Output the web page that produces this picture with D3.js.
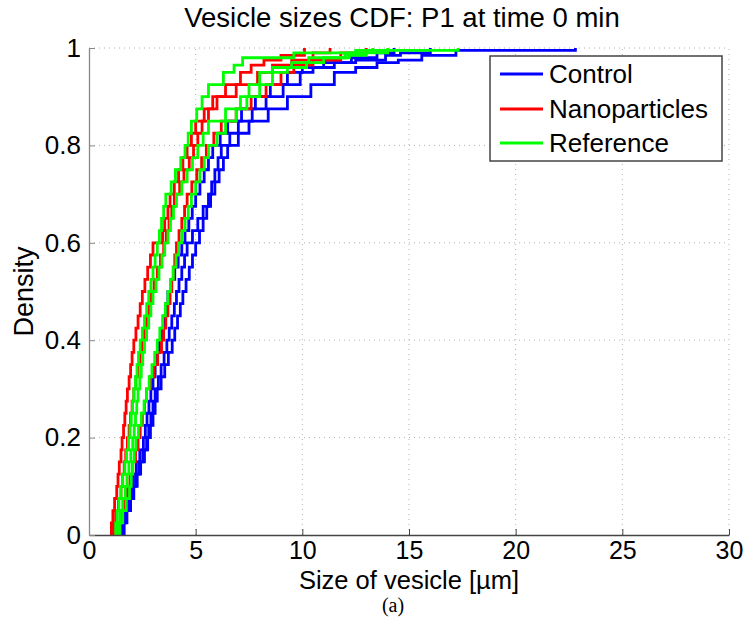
<!DOCTYPE html>
<html><head><meta charset="utf-8">
<script src="https://cdn.jsdelivr.net/npm/d3@7"></script>
<style>body{margin:0;background:#fff}svg{display:block}</style>
</head><body>
<svg id="c" width="745" height="627" font-family="Liberation Sans, Arial, sans-serif"></svg>
<script>
// Data: CDF step points [size in µm, cumulative density]
const control1 = [[1.48,0],[1.48,.025],[1.6,.05],[1.75,.075],[1.9,.1],[2.05,.125],[2.22,.15],[2.38,.175],[2.55,.2],[2.64,.225],[2.72,.25],[2.81,.275],[2.9,.3],[3.0,.325],[3.1,.35],[3.2,.375],[3.3,.4],[3.4,.425],[3.5,.45],[3.6,.475],[3.7,.5],[3.85,.525],[4.02,.55],[4.18,.575],[4.35,.6],[4.5,.625],[4.68,.65],[4.84,.675],[5.0,.7],[5.2,.725],[5.4,.75],[5.6,.775],[5.8,.8],[6.15,.825],[6.5,.85],[7.15,.875],[7.8,.9],[8.5,.925],[9.3,.95],[10.0,.96],[11.0,.97],[12.3,.98],[13.5,.99],[14.3,1]];
const control2 = [[1.58,0],[1.58,.025],[1.7,.05],[1.85,.075],[2.0,.1],[2.18,.125],[2.35,.15],[2.52,.175],[2.7,.2],[2.8,.225],[2.9,.25],[3.0,.275],[3.1,.3],[3.25,.325],[3.38,.35],[3.52,.375],[3.65,.4],[3.76,.425],[3.88,.45],[4.0,.475],[4.1,.5],[4.22,.525],[4.35,.55],[4.48,.575],[4.6,.6],[4.85,.625],[5.1,.65],[5.35,.675],[5.6,.7],[5.75,.725],[5.9,.75],[6.05,.775],[6.2,.8],[6.6,.825],[7.0,.85],[7.65,.875],[8.3,.9],[9.1,.925],[9.9,.95],[10.5,.96],[11.5,.97],[12.5,.975],[13.9,.985],[14.6,.99],[16.0,1]];
const control3 = [[1.65,0],[1.65,.025],[1.78,.05],[1.95,.075],[2.1,.1],[2.26,.125],[2.42,.15],[2.6,.175],[2.75,.2],[2.88,.225],[3.0,.25],[3.1,.275],[3.2,.3],[3.38,.325],[3.55,.35],[3.72,.375],[3.9,.4],[4.02,.425],[4.15,.45],[4.28,.475],[4.4,.5],[4.55,.525],[4.7,.55],[4.85,.575],[5.0,.6],[5.18,.625],[5.35,.65],[5.52,.675],[5.7,.7],[5.9,.725],[6.1,.75],[6.3,.775],[6.5,.8],[7.0,.825],[7.5,.85],[8.4,.875],[9.3,.9],[10.4,.925],[11.5,.95],[12.5,.96],[13.5,.97],[14.5,.975],[15.6,.985],[17.2,.995],[22.8,1]];
const nano1 = [[1.05,0],[1.05,.025],[1.12,.05],[1.2,.075],[1.3,.1],[1.36,.125],[1.42,.15],[1.5,.175],[1.55,.2],[1.62,.225],[1.68,.25],[1.74,.275],[1.8,.3],[1.88,.325],[1.95,.35],[2.02,.375],[2.1,.4],[2.2,.425],[2.3,.45],[2.4,.475],[2.5,.5],[2.62,.525],[2.75,.55],[2.88,.575],[3.0,.6],[3.45,.625],[3.55,.65],[3.7,.675],[3.8,.7],[4.0,.725],[4.2,.75],[4.4,.775],[4.6,.8],[4.8,.825],[5.0,.85],[5.4,.875],[5.8,.9],[6.4,.925],[7.1,.95],[7.6,.965],[8.2,.975],[9.0,.985],[10.1,1]];
const nano2 = [[1.15,0],[1.15,.025],[1.25,.05],[1.38,.075],[1.5,.1],[1.58,.125],[1.65,.15],[1.72,.175],[1.8,.2],[1.88,.225],[1.95,.25],[2.02,.275],[2.1,.3],[2.2,.325],[2.3,.35],[2.4,.375],[2.5,.4],[2.6,.425],[2.7,.45],[2.8,.475],[2.9,.5],[3.05,.525],[3.2,.55],[3.35,.575],[3.5,.6],[3.62,.625],[3.75,.65],[3.88,.675],[4.0,.7],[4.25,.725],[4.45,.75],[4.7,.775],[4.9,.8],[5.1,.825],[5.3,.85],[5.6,.875],[6.0,.9],[6.9,.925],[7.9,.95],[8.6,.965],[9.5,.975],[10.5,.99],[11.3,1]];
const nano3 = [[1.35,0],[1.35,.025],[1.5,.05],[1.65,.075],[1.8,.1],[1.92,.125],[2.05,.15],[2.18,.175],[2.3,.2],[2.4,.225],[2.5,.25],[2.6,.275],[2.7,.3],[2.88,.325],[3.05,.35],[3.22,.375],[3.4,.4],[3.5,.425],[3.6,.45],[3.7,.475],[3.8,.5],[3.88,.525],[3.95,.55],[4.02,.575],[4.1,.6],[4.22,.625],[4.35,.65],[4.48,.675],[4.6,.7],[4.82,.725],[5.05,.75],[5.28,.775],[5.5,.8],[5.85,.825],[6.2,.85],[6.9,.875],[7.6,.9],[8.3,.925],[9.0,.95],[9.6,.965],[10.5,.975],[11.8,.99],[13.0,1]];
const ref1 = [[1.25,0],[1.25,.025],[1.32,.05],[1.4,.075],[1.5,.1],[1.58,.125],[1.68,.15],[1.76,.175],[1.85,.2],[1.92,.225],[1.98,.25],[2.04,.275],[2.1,.3],[2.18,.325],[2.25,.35],[2.32,.375],[2.4,.4],[2.5,.425],[2.6,.45],[2.7,.475],[2.8,.5],[2.9,.525],[3.0,.55],[3.1,.575],[3.2,.6],[3.3,.625],[3.4,.65],[3.5,.675],[3.6,.7],[3.85,.725],[4.05,.75],[4.3,.775],[4.5,.8],[4.65,.825],[4.8,.85],[5.05,.875],[5.3,.9],[5.6,.925],[6.3,.95],[6.8,.965],[7.2,.98],[9.6,.99],[12.5,.995],[13.3,1]];
const ref2 = [[1.35,0],[1.35,.025],[1.45,.05],[1.58,.075],[1.7,.1],[1.78,.125],[1.87,.15],[1.96,.175],[2.05,.2],[2.12,.225],[2.18,.25],[2.24,.275],[2.3,.3],[2.38,.325],[2.45,.35],[2.52,.375],[2.6,.4],[2.7,.425],[2.8,.45],[2.9,.475],[3.0,.5],[3.14,.525],[3.28,.55],[3.42,.575],[3.55,.6],[3.7,.625],[3.82,.65],[3.96,.675],[4.1,.7],[4.35,.725],[4.6,.75],[4.85,.775],[5.1,.8],[5.35,.825],[5.6,.85],[6.4,.875],[7.1,.9],[7.5,.925],[8.0,.95],[8.6,.96],[9.5,.97],[10.3,.98],[12.0,.985],[13.0,.995],[17.3,1]];
const ref3 = [[1.45,0],[1.45,.025],[1.58,.05],[1.75,.075],[1.9,.1],[1.98,.125],[2.05,.15],[2.12,.175],[2.2,.2],[2.32,.225],[2.45,.25],[2.58,.275],[2.7,.3],[2.82,.325],[2.95,.35],[3.08,.375],[3.2,.4],[3.32,.425],[3.45,.45],[3.58,.475],[3.7,.5],[3.82,.525],[3.95,.55],[4.08,.575],[4.2,.6],[4.35,.625],[4.5,.65],[4.65,.675],[4.8,.7],[5.0,.725],[5.2,.75],[5.4,.775],[5.6,.8],[6.0,.825],[6.4,.85],[6.9,.875],[7.4,.9],[8.0,.925],[8.6,.95],[9.3,.96],[10.2,.97],[11.0,.98],[12.2,.99],[14.0,1]];

const groups = ["Control","Nanoparticles","Reference"];
const groupColors = ["#0000ff","#ff0000","#00ff00"];
const series = [
  {g:0, v:control1},{g:0, v:control2},{g:0, v:control3},
  {g:1, v:nano1},{g:1, v:nano2},{g:1, v:nano3},
  {g:2, v:ref1},{g:2, v:ref2},{g:2, v:ref3}
];
const xTicks = [0,5,10,15,20,25,30];
const yTicks = [0,0.2,0.4,0.6,0.8,1];
const yTickLabels = ["0","0.2","0.4","0.6","0.8","1"];

const svg = d3.select("#c");
const L=89, R=729, T=48, B=535;
const x = d3.scaleLinear().domain([0,30]).range([L,R]);
const y = d3.scaleLinear().domain([0,1]).range([B,T]);

// grid
const grid = svg.append("g").attr("stroke","#b0b0b0").attr("stroke-width",1).attr("stroke-dasharray","1,4");
xTicks.slice(1).forEach(t=>grid.append("line").attr("x1",x(t)).attr("x2",x(t)).attr("y1",B).attr("y2",T));
yTicks.slice(1).forEach(t=>grid.append("line").attr("x1",L).attr("x2",R).attr("y1",y(t)).attr("y2",y(t)));

// curves
const line = d3.line().x(d=>x(d[0])).y(d=>y(d[1])).curve(d3.curveStepAfter);
series.forEach(s=>{
  svg.append("path").attr("d",line(s.v)).attr("fill","none")
    .attr("stroke",groupColors[s.g]).attr("stroke-width",2.8).attr("stroke-linejoin","miter");
});

// axes
const xAxis = d3.axisBottom(x).tickValues(xTicks).tickSizeInner(-6).tickSizeOuter(0).tickPadding(6).tickFormat(d3.format("d"));
const gx = svg.append("g").attr("transform",`translate(0,${B})`).call(xAxis);
gx.attr("font-family",null);
gx.select(".domain").attr("stroke","#444").attr("stroke-width",1.3);
gx.selectAll(".tick line").attr("stroke","#444");
gx.selectAll("text").attr("font-size",25).attr("fill","#000");

const yAxis = d3.axisLeft(y).tickValues(yTicks).tickSizeInner(-6).tickSizeOuter(0).tickPadding(8).tickFormat((d,i)=>yTickLabels[i]);
const gy = svg.append("g").attr("transform",`translate(${L},0)`).call(yAxis);
gy.attr("font-family",null);
gy.select(".domain").attr("stroke","#888").attr("stroke-width",1.3);
gy.selectAll(".tick line").attr("stroke","#888");
gy.selectAll("text").attr("font-size",26).attr("fill","#000");

// titles
svg.append("text").attr("x",402).attr("y",27).attr("text-anchor","middle").attr("font-size",27.5).text("Vesicle sizes CDF: P1 at time 0 min");
svg.append("text").attr("x",409).attr("y",589).attr("text-anchor","middle").attr("font-size",25.5).text("Size of vesicle [µm]");
svg.append("text").attr("transform",`translate(33,${(T+B)/2}) rotate(-90)`).attr("text-anchor","middle").attr("font-size",27).text("Density");
svg.append("text").attr("x",393).attr("y",612).attr("text-anchor","middle").attr("font-size",20).attr("font-family","Liberation Serif, Times New Roman, serif").text("(a)");

// legend
const lg = svg.append("g");
lg.append("rect").attr("x",490).attr("y",56).attr("width",232).attr("height",105).attr("fill","#fff").attr("stroke","#444").attr("stroke-width",1.5);
const rows=[74,109,143];
groups.forEach((g,i)=>{
  lg.append("line").attr("x1",500).attr("x2",543).attr("y1",rows[i]).attr("y2",rows[i]).attr("stroke",groupColors[i]).attr("stroke-width",2.8);
  lg.append("text").attr("x",549).attr("y",rows[i]+9).attr("font-size",26).text(g);
});
</script>
</body></html>
